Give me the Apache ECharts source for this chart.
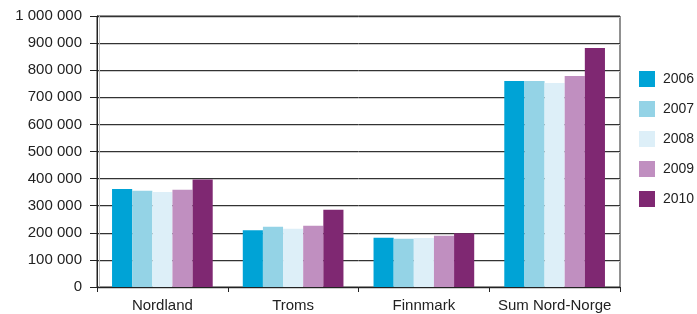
<!DOCTYPE html>
<html>
<head>
<meta charset="utf-8">
<script src="https://cdn.jsdelivr.net/npm/echarts@6/dist/echarts.min.js"></script>
<style>
  html, body { margin: 0; padding: 0; background: #fff; }
  #chart { width: 697px; height: 314px; }
</style>
</head>
<body>
<div id="chart"></div>
<script>
const categories = ['Nordland', 'Troms', 'Finnmark', 'Sum Nord-Norge'];
const years = ['2006', '2007', '2008', '2009', '2010'];
const v2006 = [362000, 209000, 182000, 760000];
const v2007 = [355000, 222000, 178000, 760000];
const v2008 = [351000, 215000, 181000, 753000];
const v2009 = [359000, 226000, 189000, 779000];
const v2010 = [397000, 285000, 198000, 882000];
const colors = ['#00a3d6', '#94d3e6', '#ddeff8', '#c08fc0', '#7f2872'];

const values = [v2006, v2007, v2008, v2009, v2010];

// 1 000 000 style labels
function fmt(v) {
  return String(v).replace(/\B(?=(\d{3})+(?!\d))/g, ' ');
}

const chart = echarts.init(document.getElementById('chart'));
chart.setOption({
  animation: false,
  textStyle: { fontFamily: 'Liberation Sans', color: '#222' },
  grid: {
    left: 97, right: 77, top: 16, bottom: 27,
    show: true, borderColor: '#222', borderWidth: 1
  },
  legend: {
    orient: 'vertical',
    left: 639, top: 71,
    padding: 0,
    itemWidth: 16, itemHeight: 16, itemGap: 14,
    icon: 'rect',
    textStyle: { fontSize: 14, color: '#222', padding: [0, 0, 0, 3] },
    data: years
  },
  xAxis: {
    type: 'category',
    data: categories,
    axisLine: { lineStyle: { color: '#222' } },
    axisTick: { show: true, length: 5, lineStyle: { color: '#222' } },
    axisLabel: { fontSize: 15, color: '#222', margin: 11, interval: 0 }
  },
  yAxis: {
    type: 'value',
    min: 0, max: 1000000, interval: 100000,
    axisLine: { show: true, lineStyle: { color: '#222', shadowColor: '#bbb', shadowOffsetX: 2 } },
    axisTick: { show: true, length: 7, lineStyle: { color: '#222' } },
    axisLabel: { fontSize: 15, color: '#222', margin: 15, formatter: fmt },
    splitLine: { lineStyle: { color: '#333', shadowColor: '#ccc', shadowOffsetY: 1 } }
  },
  series: years.map((y, i) => ({
    name: y,
    type: 'bar',
    data: values[i],
    barGap: '0%',
    barCategoryGap: '23%',
    itemStyle: { color: colors[i] }
  }))
});
</script>
</body>
</html>
